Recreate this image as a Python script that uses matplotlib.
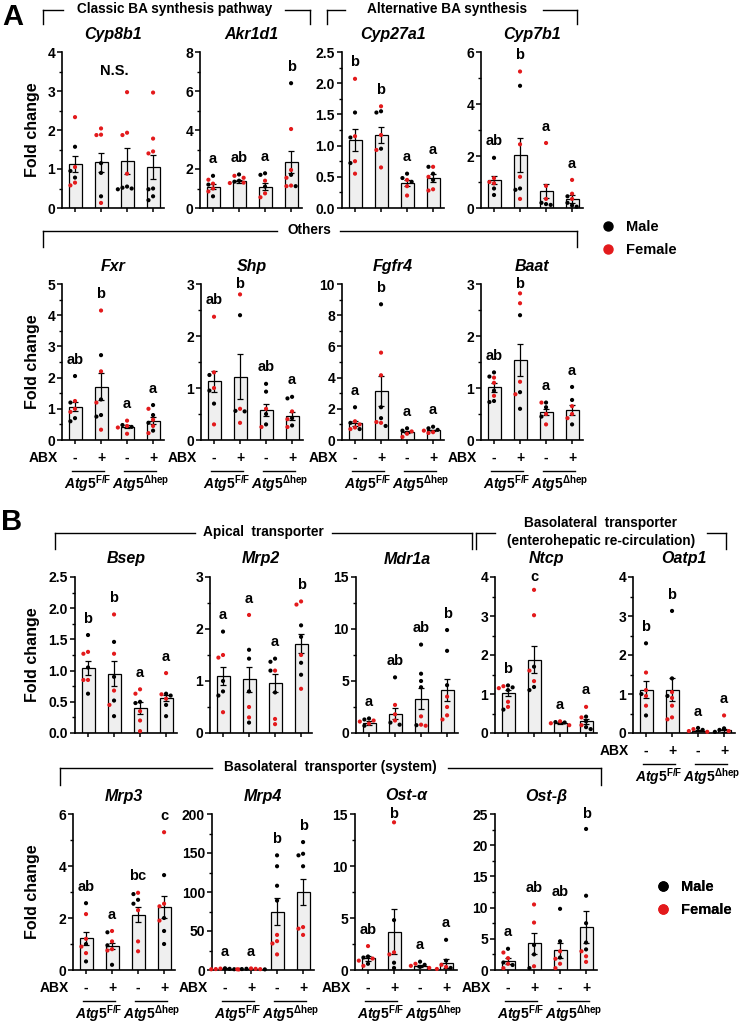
import numpy as np
import matplotlib
matplotlib.use('Agg')
import matplotlib.pyplot as plt
from matplotlib.lines import Line2D
from matplotlib.ticker import MultipleLocator, FormatStrFormatter
from matplotlib.transforms import blended_transform_factory

plt.rcParams['font.family'] = ['Liberation Sans', 'DejaVu Sans']
plt.rcParams['font.weight'] = 'bold'
plt.rcParams['mathtext.fontset'] = 'custom'
plt.rcParams['mathtext.rm'] = 'Liberation Sans:bold'
plt.rcParams['mathtext.it'] = 'Liberation Sans:italic:bold'
plt.rcParams['mathtext.bf'] = 'Liberation Sans:bold'

W, H = 747, 1023
RED = '#e31a1c'
BAR = '#efefef'

abx = ['-', '+', '-', '+']
genotypes = [r'$\mathit{Atg5}^{\mathrm{F/F}}$', r'$\mathit{Atg5}^{\mathrm{\Delta hep}}$']

# ---- bar heights (mean) and SEM ----
means = {
    'Cyp8b1': [1.13, 1.17, 1.21, 1.05],
    'Akr1d1': [1.1, 1.37, 1.1, 2.35],
    'Cyp27a1': [1.09, 1.17, 0.4, 0.48],
    'Cyp7b1': [1.09, 2.04, 0.66, 0.36],
    'Fxr': [1.07, 1.71, 0.43, 0.62],
    'Shp': [1.13, 1.22, 0.58, 0.46],
    'Fgfr4': [1.07, 3.14, 0.5, 0.62],
    'Baat': [1.01, 1.54, 0.54, 0.58],
    'Bsep': [1.04, 0.95, 0.4, 0.56],
    'Mrp2': [1.1, 1.03, 0.96, 1.72],
    'Mdr1a': [0.96, 1.86, 3.3, 4.17],
    'Ntcp': [1.03, 1.88, 0.26, 0.3],
    'Oatp1': [1.11, 1.11, 0.06, 0.07],
    'Mrp3': [1.22, 0.92, 2.13, 2.43],
    'Mrp4': [1.7, 1.6, 75, 100],
    'Ost-α': [1.12, 3.7, 0.4, 0.64],
    'Ost-β': [1.44, 4.26, 3.2, 6.9],
}
sems = {
    'Cyp8b1': [0.2, 0.24, 0.33, 0.3],
    'Akr1d1': [0.13, 0.07, 0.2, 0.55],
    'Cyp27a1': [0.17, 0.13, 0.05, 0.06],
    'Cyp7b1': [0.16, 0.66, 0.28, 0.15],
    'Fxr': [0.15, 0.43, 0.05, 0.12],
    'Shp': [0.2, 0.43, 0.12, 0.08],
    'Fgfr4': [0.15, 0.97, 0.07, 0.05],
    'Baat': [0.08, 0.31, 0.06, 0.1],
    'Bsep': [0.11, 0.2, 0.1, 0.05],
    'Mrp2': [0.17, 0.24, 0.18, 0.18],
    'Mdr1a': [0.15, 0.55, 1.03, 1.05],
    'Ntcp': [0.08, 0.34, 0.03, 0.06],
    'Oatp1': [0.22, 0.3, 0.02, 0.04],
    'Mrp3': [0.26, 0.13, 0.3, 0.43],
    'Mrp4': [0.3, 0.3, 17.5, 16.5],
    'Ost-α': [0.25, 2.2, 0.12, 0.4],
    'Ost-β': [0.42, 1.7, 1.2, 2.55],
}
letters = {
    'Cyp8b1': 'N.S.',
    'Akr1d1': ['a', 'ab', 'a', 'b'],
    'Cyp27a1': ['b', 'b', 'a', 'a'],
    'Cyp7b1': ['ab', 'b', 'a', 'a'],
    'Fxr': ['ab', 'b', 'a', 'a'],
    'Shp': ['ab', 'b', 'ab', 'a'],
    'Fgfr4': ['a', 'b', 'a', 'a'],
    'Baat': ['ab', 'b', 'a', 'a'],
    'Bsep': ['b', 'b', 'a', 'a'],
    'Mrp2': ['a', 'a', 'a', 'b'],
    'Mdr1a': ['a', 'ab', 'ab', 'b'],
    'Ntcp': ['b', 'c', 'a', 'a'],
    'Oatp1': ['b', 'b', 'a', 'a'],
    'Mrp3': ['ab', 'a', 'bc', 'c'],
    'Mrp4': ['a', 'a', 'b', 'b'],
    'Ost-α': ['ab', 'b', 'a', 'a'],
    'Ost-β': ['a', 'ab', 'ab', 'b'],
}

# ---- individual animals: [F/F -, F/F +, dhep -, dhep +] ----
male = {
    'Cyp8b1': [[1.57, 0.95, 0.78], [1.15, 0.9, 0.3], [0.55, 0.5, 0.48, 0.52], [0.5, 0.48, 0.3, 0.2]],
    'Akr1d1': [[1.65, 1.2, 0.6], [1.72, 1.4, 1.35], [1.78, 1.7, 1.1], [6.4, 1.7, 1.12]],
    'Cyp27a1': [[1.53, 1.13, 0.72], [1.55, 1.53, 0.95], [0.55, 0.48, 0.42], [0.66, 0.55, 0.45]],
    'Cyp7b1': [[1.93, 0.75, 0.5], [4.7, 0.75, 0.7], [0.2, 0.15, 0.12], [0.45, 0.2, 0.1, 0.05]],
    'Fxr': [[2.05, 1.2, 0.7, 0.6], [2.72, 1.3, 0.8, 0.75], [0.48, 0.42], [1.12, 0.8, 0.55, 0.3]],
    'Shp': [[1.25, 0.95, 0.7], [2.4, 0.56, 0.55], [1.08, 0.93, 0.5, 0.3], [0.83, 0.8, 0.42, 0.28]],
    'Fgfr4': [[2.1, 1.1, 0.7], [8.7, 2.1, 1.4, 0.9], [0.75, 0.6], [0.85, 0.75, 0.65]],
    'Baat': [[1.3, 1.22, 0.95, 0.75, 0.73], [2.4, 0.92, 0.6], [0.72, 0.63, 0.45], [1.02, 0.77, 0.3]],
    'Bsep': [[1.57, 1.05, 0.63], [1.46, 0.9, 0.52, 0.27], [0.5, 0.48], [0.63, 0.6, 0.45, 0.27]],
    'Mrp2': [[1.95, 1.0, 0.8, 0.72], [1.6, 1.43, 0.8, 0.2], [1.43, 1.37, 1.2, 0.78], [2.07, 1.85, 1.35, 1.12]],
    'Mdr1a': [[1.4, 1.3, 0.7], [5.35, 1.0, 0.8], [8.5, 5.7, 5.0, 4.4, 0.75], [9.9, 7.9, 4.6]],
    'Ntcp': [[1.22, 1.17, 1.1, 0.6], [1.7, 1.18, 1.1], [0.28, 0.27], [0.42, 0.3, 0.15, 0.1]],
    'Oatp1': [[2.3, 1.0, 0.45], [3.13, 1.4, 0.95], [0.13, 0.08], [0.12, 0.08, 0.03]],
    'Mrp3': [[2.57, 1.0, 0.33], [1.45, 0.95, 0.2], [2.92, 2.7, 2.55], [3.65, 2.0, 1.5, 1.0]],
    'Mrp4': [[2.2, 1.5, 1.0], [1.6, 1.2, 0.8], [147, 133, 108, 89], [164, 149, 147, 133]],
    'Ost-α': [[1.3, 1.2, 0.6], [4.8, 0.7, 0.2], [0.8, 0.5, 0.3], [2.9, 0.9, 0.2]],
    'Ost-β': [[3.4, 1.2, 0.8], [4.0, 2.5, 0.3], [9.8, 4.6, 2.0], [22.6, 11.9, 7.5, 4.4, 3.3]],
}
female = {
    'Cyp8b1': [[2.33, 1.05, 0.65, 0.58], [2.04, 1.88, 1.87, 0.13], [2.97, 1.93, 1.87, 0.88], [2.96, 1.78, 1.45, 1.4]],
    'Akr1d1': [[1.45, 1.25, 1.0, 0.85], [1.65, 1.55, 1.3, 1.28], [1.4, 0.75, 0.55], [4.05, 1.95, 1.55, 1.15, 1.12]],
    'Cyp27a1': [[2.07, 1.15, 0.75, 0.55], [1.63, 1.17, 0.93, 0.65], [0.45, 0.35, 0.2], [0.66, 0.5, 0.3, 0.28]],
    'Cyp7b1': [[1.15, 1.0, 0.95], [5.25, 2.45, 1.2, 0.35], [2.5, 0.85, 0.35], [1.08, 0.55, 0.35]],
    'Fxr': [[1.25, 1.0, 0.9], [4.15, 2.2, 1.2, 0.33], [0.62, 0.45, 0.4, 0.2], [1.0, 0.65, 0.45, 0.22]],
    'Shp': [[2.37, 1.3, 1.0, 0.3], [2.8, 0.6, 0.33], [0.6, 0.25], [0.55, 0.4, 0.25]],
    'Fgfr4': [[1.2, 1.0, 0.8, 0.7], [5.6, 4.15, 1.15, 1.1], [0.55, 0.4, 0.2], [0.6, 0.5, 0.45]],
    'Baat': [[1.2, 1.1, 0.85], [2.82, 2.63, 1.12, 0.88], [0.72, 0.5, 0.3], [0.65, 0.5, 0.42]],
    'Bsep': [[1.3, 1.27, 0.85, 0.85], [1.9, 1.27, 0.68, 0.45], [0.7, 0.63, 0.35, 0.2, 0.03], [0.96, 0.62, 0.55]],
    'Mrp2': [[1.5, 1.45, 0.4], [2.27, 0.5, 0.3], [1.2, 0.27, 0.17], [2.53, 2.47, 1.5, 0.85]],
    'Mdr1a': [[1.2, 1.1, 0.9], [2.7, 1.8, 1.2], [1.6, 0.8, 0.7], [3.5, 2.5, 1.7, 1.3]],
    'Ntcp': [[1.2, 1.15, 0.8, 0.67], [3.67, 3.02, 1.6, 1.33], [0.3, 0.25, 0.2], [0.67, 0.4, 0.2]],
    'Oatp1': [[1.55, 1.1, 0.95, 0.7], [1.05, 0.9, 0.7, 0.4, 0.35], [0.1, 0.05, 0.03], [0.45, 0.05]],
    'Mrp3': [[2.15, 1.2, 0.9, 0.65], [1.5, 1.1, 0.8, 0.75], [2.97, 2.3, 1.1, 0.72], [5.3, 2.55, 2.45, 1.9]],
    'Mrp4': [[1.8, 1.2, 0.9, 0.7], [2.0, 1.5, 1.1, 0.9], [45, 37, 34, 20], [55, 53, 45]],
    'Ost-α': [[2.3, 1.1, 0.9, 0.4], [14.2, 1.7, 1.5], [0.6, 0.4, 0.2], [0.5, 0.3, 0.1]],
    'Ost-β': [[2.8, 1.9, 1.0, 0.3], [10.5, 7.6, 0.6], [3.0, 1.8, 1.0, 0.3], [3.0, 2.2, 1.3]],
}

# axis scale per gene: (ymax, major step, minor step, label format)
scales = {
    'Cyp8b1': (4, 1, 0.5, '%d'), 'Akr1d1': (8, 2, 1, '%d'),
    'Cyp27a1': (2.5, 0.5, 0.25, '%.1f'), 'Cyp7b1': (6, 2, 1, '%d'),
    'Fxr': (5, 1, 0.5, '%d'), 'Shp': (3, 1, 0.5, '%d'),
    'Fgfr4': (10, 2, 1, '%d'), 'Baat': (3, 1, 0.5, '%d'),
    'Bsep': (2.5, 0.5, 0.25, '%.1f'), 'Mrp2': (3, 1, 0.5, '%d'),
    'Mdr1a': (15, 5, 2.5, '%d'), 'Ntcp': (4, 1, 0.5, '%d'),
    'Oatp1': (4, 1, 0.5, '%d'), 'Mrp3': (6, 2, 1, '%d'),
    'Mrp4': (200, 50, 25, '%d'), 'Ost-α': (15, 5, 2.5, '%d'),
    'Ost-β': (25, 5, 2.5, '%d'),
}

AX_W, AX_H = 102, 156   # axes size in pixels
XLIM = (-0.5, 3.42)
PPU_X = AX_W / (XLIM[1] - XLIM[0])
FS = 10   # base font size


def swarm(vals, ymax, gap=4.6):
    # spread overlapping dots sideways, GraphPad style
    order = np.argsort(vals)[::-1]
    placed = []
    offs = np.zeros(len(vals))
    for k in order:
        y = vals[k] / ymax * AX_H
        for c in [0, -1, 1, -2, 2, -3, 3, -4, 4]:
            ox = c * gap
            if all((ox - a) ** 2 + (y - b) ** 2 >= gap ** 2 for a, b in placed):
                break
        placed.append((ox, y))
        offs[k] = ox / PPU_X
    return offs


def panel(fig, gene, left, top, ylabel=False, abx_row=False):
    ax = fig.add_axes([left / W, 1 - (top + AX_H) / H, AX_W / W, AX_H / H])
    ymax, major, minor, fmt = scales[gene]
    x = np.arange(4)
    ax.bar(x, means[gene], width=0.5, color=BAR, edgecolor='black',
           linewidth=0.9, zorder=1)
    ax.errorbar(x, means[gene], yerr=sems[gene], fmt='none', ecolor='black',
                elinewidth=0.9, capsize=2.5, capthick=0.9, zorder=3)
    tops = []
    for i in range(4):
        vals = list(male[gene][i]) + list(female[gene][i])
        cols = ['black'] * len(male[gene][i]) + [RED] * len(female[gene][i])
        offs = swarm(np.array(vals), ymax)
        ax.scatter(i + offs, vals, s=9, c=cols, marker='o', linewidths=0,
                   zorder=4, clip_on=False)
        tops.append(max(max(vals), means[gene][i] + sems[gene][i]))

    lab = letters[gene]
    if isinstance(lab, str):
        ax.text(1.5, 0.88 * ymax, lab, ha='center', va='center', fontsize=FS + 0.5)
    else:
        for i, s in enumerate(lab):
            ly = min(tops[i] + 0.105 * ymax, ymax)
            ax.text(i, ly, s, ha='center', va='center', fontsize=FS + 0.5)

    ax.set_xlim(*XLIM)
    ax.set_ylim(0, ymax)
    ax.yaxis.set_major_locator(MultipleLocator(major))
    ax.yaxis.set_minor_locator(MultipleLocator(minor))
    ax.yaxis.set_major_formatter(FormatStrFormatter(fmt))
    ax.set_xticks(x)
    ax.set_xticklabels([])
    for s in ['top', 'right']:
        ax.spines[s].set_visible(False)
    for s in ['left', 'bottom']:
        ax.spines[s].set_linewidth(1.2)
    ax.tick_params(axis='y', which='major', length=3.5, width=1.1,
                   labelsize=FS, pad=1.5)
    ax.tick_params(axis='y', which='minor', length=2, width=1.0)
    ax.tick_params(axis='x', length=3, width=1.1)

    ax.text(0.5, 1 + 18 / AX_H, gene, transform=ax.transAxes, ha='center',
            va='center', fontsize=FS + 1.5, style='italic')

    if ylabel:
        tr = blended_transform_factory(fig.transFigure, ax.transAxes)
        ax.text(32 / W, 0.5, 'Fold change', transform=tr,
                rotation=90, ha='center', va='center', fontsize=FS + 1.5)

    if abx_row:
        tr = blended_transform_factory(ax.transData, ax.transAxes)
        for i, s in enumerate(abx):
            ax.text(i, -18 / AX_H, s, transform=tr, ha='center', va='center',
                    fontsize=FS)
        ax.text(-4 / AX_W, -18 / AX_H, 'ABX', transform=ax.transAxes,
                ha='right', va='center', fontsize=FS)
        for j, g in enumerate(genotypes):
            a, b = 2 * j - 0.12, 2 * j + 1.12
            ax.plot([a, b], [-31 / AX_H] * 2, transform=tr, color='black',
                    lw=1.0, clip_on=False)
            ax.text(2 * j + 0.5, -44 / AX_H, g, transform=tr, ha='center',
                    va='center', fontsize=FS)
    return ax


fig = plt.figure(figsize=(W / 100, H / 100), dpi=100)

row_a1 = [('Cyp8b1', 62), ('Akr1d1', 200), ('Cyp27a1', 342), ('Cyp7b1', 481)]
row_a2 = [('Fxr', 62), ('Shp', 201), ('Fgfr4', 342), ('Baat', 481)]
row_b1 = [('Bsep', 75), ('Mrp2', 210), ('Mdr1a', 356), ('Ntcp', 495), ('Oatp1', 633)]
row_b2 = [('Mrp3', 73), ('Mrp4', 212), ('Ost-α', 355), ('Ost-β', 495)]

for k, (g, x0) in enumerate(row_a1):
    panel(fig, g, x0, 52, ylabel=(k == 0))
for k, (g, x0) in enumerate(row_a2):
    panel(fig, g, x0, 284, ylabel=(k == 0), abx_row=True)
for k, (g, x0) in enumerate(row_b1):
    panel(fig, g, x0, 577, ylabel=(k == 0), abx_row=(g == 'Oatp1'))
for k, (g, x0) in enumerate(row_b2):
    panel(fig, g, x0, 814, ylabel=(k == 0), abx_row=True)

# overlay in pixel coordinates for brackets, headings and legends
ov = fig.add_axes([0, 0, 1, 1])
ov.set_xlim(0, W)
ov.set_ylim(H, 0)
ov.axis('off')
ov.patch.set_visible(False)


def bracket(x0, x1, y, y_end, gaps):
    xs = [x0] + [v for g in gaps for v in g] + [x1]
    for a, b in zip(xs[0::2], xs[1::2]):
        ov.plot([a, b], [y, y], color='black', lw=1.0)
    ov.plot([x0, x0], [y, y_end], color='black', lw=1.0)
    ov.plot([x1, x1], [y, y_end], color='black', lw=1.0)


BT = FS - 0.2
bracket(43, 310, 10, 24, [(63, 285)])
ov.text(175, 8.5, 'Classic BA synthesis pathway', ha='center', va='center', fontsize=BT)
bracket(327, 577, 10, 24, [(345, 543)])
ov.text(447, 8.5, 'Alternative BA synthesis', ha='center', va='center', fontsize=BT)
bracket(43, 577, 231, 247, [(277, 340)])
ov.text(309, 230, 'Others', ha='center', va='center', fontsize=BT)

bracket(55, 472, 533, 549, [(195, 332)])
ov.text(263, 532, 'Apical  transporter', ha='center', va='center', fontsize=BT)
bracket(476, 726, 533, 549, [(495, 707)])
ov.text(601, 523, 'Basolateral  transporter', ha='center', va='center', fontsize=BT)
ov.text(601, 541, '(enterohepatic re-circulation)', ha='center', va='center', fontsize=BT)
bracket(60, 601, 768, 785, [(212, 448)])
ov.text(330, 767, 'Basolateral  transporter (system)', ha='center', va='center', fontsize=BT)

ov.text(13, 17, 'A', ha='center', va='center', fontsize=21)
ov.text(12, 522, 'B', ha='center', va='center', fontsize=21)

handles = [Line2D([], [], marker='o', ls='none', color='black', markersize=6.5),
           Line2D([], [], marker='o', ls='none', color=RED, markersize=6.5)]
for lx, ly in [(601, 220), (656, 880)]:
    ov.legend(handles, ['Male', 'Female'], loc='upper left',
              bbox_to_anchor=(lx, ly), bbox_transform=ov.transData,
              frameon=False, fontsize=FS + 0.5, handlelength=1.0,
              handletextpad=0.7, labelspacing=0.6, borderpad=0,
              borderaxespad=0)
    ov.add_artist(ov.get_legend())

fig.savefig('out.png', dpi=100)
